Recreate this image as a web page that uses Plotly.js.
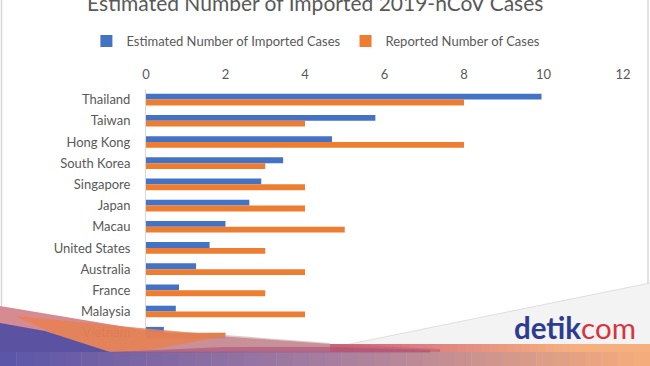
<!DOCTYPE html>
<html>
<head>
<meta charset="utf-8">
<script src="https://cdn.plot.ly/plotly-3.0.1.min.js"></script>
<style>html,body{margin:0;padding:0;background:#fff;}#chart{width:650px;height:366px;}</style>
</head>
<body>
<div id="chart"></div>
<script>
const countries = ["Thailand","Taiwan","Hong Kong","South Korea","Singapore","Japan","Macau","United States","Australia","France","Malaysia","Vietnam"];
const estimated = [9.95, 5.77, 4.68, 3.45, 2.9, 2.6, 2.0, 1.6, 1.26, 0.83, 0.75, 0.45];
const reported  = [8, 4, 8, 3, 4, 4, 5, 3, 4, 3, 4, 2];
const xTicks = [0, 2, 4, 6, 8, 10, 12];

const W = 650, H = 366, ML = 146, MR = 27, MT = 89, MB = 0;
const PW = W - ML - MR, PH = H - MT - MB;
const px = v => (v - ML) / PW;
const py = v => 1 - (v - MT) / PH;
function path(pts) {
  return pts.map((p, i) => (i ? 'L' : 'M') + px(p[0]).toFixed(4) + ',' + py(p[1]).toFixed(4)).join(' ') + ' Z';
}
function lerp(a, b, t) { return a.map((v, i) => Math.round(v + (b[i] - v) * t)); }

const shapes = [];
// light grey backdrop triangle at lower right
shapes.push({type:'path', xref:'paper', yref:'paper', layer:'above', path: path([[650,283],[340,346],[650,346]]), fillcolor:'#f3f3f3', line:{width:0}});
shapes.push({type:'line', xref:'paper', yref:'paper', layer:'above', x0:px(650), y0:py(283), x1:px(340), y1:py(346), line:{color:'#dedede', width:1}});
// frame lines
shapes.push({type:'line', xref:'paper', yref:'paper', layer:'above', x0:px(648), y0:py(0), x1:px(648), y1:py(283), line:{color:'#d8d8d8', width:1.5}});
shapes.push({type:'line', xref:'paper', yref:'paper', layer:'above', x0:px(1.5), y0:py(0), x1:px(1.5), y1:py(306), line:{color:'#d8d8d8', width:1.5}});
// gradient bottom band
const c0 = [92, 86, 168], c1 = [165, 125, 160], c2 = [245, 172, 124];
const N = 40;
for (let i = 0; i < N; i++) {
  const xa = i * W / N, xb = (i + 1) * W / N + 0.5;
  const t = i / (N - 1);
  const c = t < 0.5 ? lerp(c0, c1, t / 0.5) : lerp(c1, c2, (t - 0.5) / 0.5);
  shapes.push({type:'rect', xref:'paper', yref:'paper', layer:'above', x0:px(xa), x1:px(xb), y0:py(366), y1:py(351), fillcolor:'rgb(' + c.join(',') + ')', line:{width:0}});
}
// right peach upper part of band
for (let i = 0; i < N; i++) {
  const xa = 330 + i * 320 / N, xb = 330 + (i + 1) * 320 / N + 0.5;
  const t = i / (N - 1);
  const c = lerp([205, 100, 130], [246, 176, 128], Math.min(1, t * 1.3));
  shapes.push({type:'rect', xref:'paper', yref:'paper', layer:'above', x0:px(xa), x1:px(xb), y0:py(352), y1:py(344), fillcolor:'rgb(' + c.join(',') + ')', line:{width:0}});
}
// red / salmon swoosh
shapes.push({type:'path', xref:'paper', yref:'paper', layer:'above', path: path([[0,306],[150,331],[330,344],[440,349],[440,352],[0,352]]), fillcolor:'rgba(200,100,110,0.75)', line:{width:0}});
// mauve overlay across middle
shapes.push({type:'path', xref:'paper', yref:'paper', layer:'above', path: path([[60,322],[225,335],[330,343],[330,352],[60,352]]), fillcolor:'rgba(190,150,155,0.5)', line:{width:0}});
// orange triangle
shapes.push({type:'path', xref:'paper', yref:'paper', layer:'above', path: path([[15,316],[225,336],[150,350],[95,352]]), fillcolor:'rgba(236,125,65,0.7)', line:{width:0}});
// dark purple left
shapes.push({type:'path', xref:'paper', yref:'paper', layer:'above', path: path([[0,323],[45,331],[110,352],[0,352]]), fillcolor:'rgb(92,82,162)', line:{width:0}});
// purple/red streak
shapes.push({type:'path', xref:'paper', yref:'paper', layer:'above', path: path([[110,352],[225,347],[330,347],[430,350],[430,352.5],[110,352.5]]), fillcolor:'rgba(165,80,125,0.6)', line:{width:0}});

const data = [
  {type:'bar', orientation:'h', name:'Estimated Number of Imported Cases', y: countries, x: estimated, marker:{color:'#4472C4'}},
  {type:'bar', orientation:'h', name:'Reported Number of Cases', y: countries, x: reported, marker:{color:'#ED7D31'}}
];

const layout = {
  width: W, height: H,
  margin: {l: ML, r: MR, t: MT, b: MB, pad: 0},
  paper_bgcolor: '#ffffff', plot_bgcolor: '#ffffff',
  font: {family: 'Lato, "Open Sans", sans-serif', color: '#595959', size: 12.5},
  title: {text: 'Estimated Number of Imported 2019-nCoV Cases', font: {size: 21, color: '#595959', family: 'Lato, sans-serif'}, x: 0.485, xref: 'container', xanchor: 'center', y: 1 - 3.5 / H, yref: 'container', yanchor: 'middle'},
  barmode: 'group', bargap: 0.45, bargroupgap: 0,
  showlegend: true,
  legend: {orientation: 'h', x: 0.486, xref: 'container', xanchor: 'center', y: 1 - 41 / H, yref: 'container', yanchor: 'middle', font: {size: 13, color: '#595959'}, itemwidth: 30, traceorder: 'normal'},
  xaxis: {side: 'top', range: [0, 12], tickvals: xTicks, ticktext: xTicks.map(String), showgrid: false, zeroline: false, showline: false, ticks: '', ticklabelstandoff: 6, tickfont: {size: 13, color: '#595959'}, fixedrange: true},
  yaxis: {type: 'category', categoryorder: 'array', categoryarray: countries, range: [12.57, -0.5], showgrid: false, zeroline: false, showline: true, linecolor: '#d9d9d9', linewidth: 1, ticks: 'outside', ticklen: 12, tickcolor: 'rgba(0,0,0,0)', tickfont: {size: 13, color: '#595959'}, fixedrange: true},
  shapes: shapes,
  annotations: [
    {xref: 'paper', yref: 'paper', x: px(638), y: py(327), xanchor: 'right', yanchor: 'middle', showarrow: false,
     text: '<b><span style="color:#2c3c93">detik</span></b><span style="color:#d8343f">com</span>',
     font: {size: 29.5, family: 'Lato, "Open Sans", sans-serif'}}
  ]
};

Plotly.newPlot('chart', data, layout, {displayModeBar: false, staticPlot: true});
</script>
</body>
</html>
